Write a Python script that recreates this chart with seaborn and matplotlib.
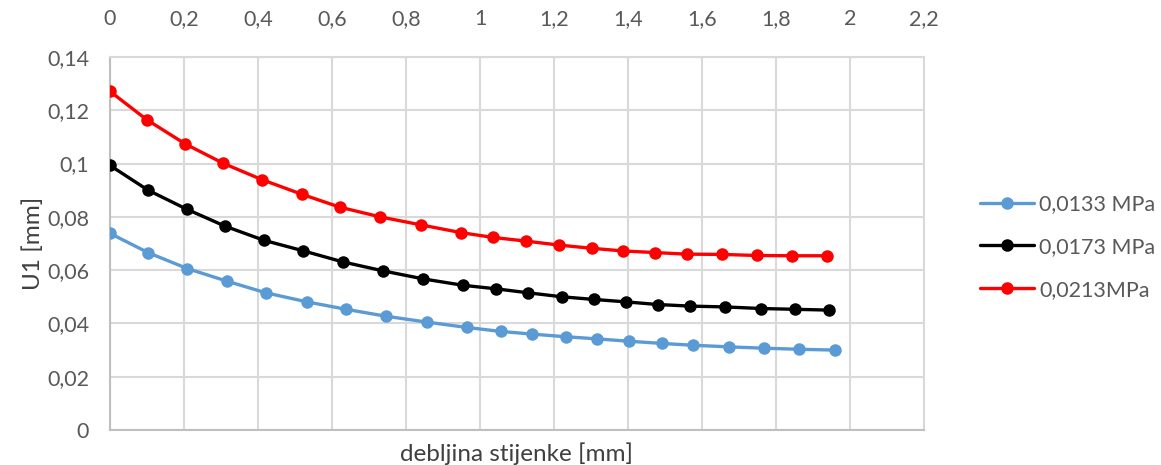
import matplotlib
matplotlib.use("Agg")
import matplotlib.pyplot as plt
import seaborn as sns
import pandas as pd
from matplotlib.ticker import FuncFormatter, MultipleLocator

x_0133 = [0, 0.104, 0.209, 0.315, 0.421, 0.532, 0.638, 0.746, 0.856, 0.964, 1.056,
          1.140, 1.232, 1.317, 1.404, 1.491, 1.577, 1.674, 1.768, 1.862, 1.959]
u_0133 = [0.0738, 0.0665, 0.0606, 0.0559, 0.0515, 0.0481, 0.0453, 0.0427, 0.0405, 0.0385,
          0.0370, 0.0360, 0.0350, 0.0342, 0.0333, 0.0325, 0.0318, 0.0312, 0.0307, 0.0303, 0.0300]

x_0173 = [0, 0.103, 0.207, 0.311, 0.416, 0.521, 0.629, 0.739, 0.847, 0.955, 1.043,
          1.130, 1.221, 1.308, 1.394, 1.480, 1.568, 1.662, 1.759, 1.851, 1.944]
u_0173 = [0.0993, 0.0900, 0.0829, 0.0765, 0.0712, 0.0673, 0.0631, 0.0597, 0.0567, 0.0543,
          0.0530, 0.0515, 0.0500, 0.0490, 0.0481, 0.0471, 0.0465, 0.0462, 0.0456, 0.0453, 0.0450]

x_0213 = [0, 0.099, 0.203, 0.306, 0.410, 0.518, 0.622, 0.730, 0.840, 0.948, 1.034,
          1.124, 1.214, 1.302, 1.387, 1.473, 1.560, 1.655, 1.748, 1.844, 1.937]
u_0213 = [0.1271, 0.1165, 0.1074, 0.1001, 0.0940, 0.0885, 0.0836, 0.0800, 0.0770, 0.0741,
          0.0723, 0.0709, 0.0694, 0.0682, 0.0672, 0.0666, 0.0660, 0.0659, 0.0655, 0.0654, 0.0654]

series_names = ["0,0133 MPa", "0,0173 MPa", "0,0213MPa"]
series_colors = ["#5b9bd5", "#000000", "#ff0000"]
series_x = [x_0133, x_0173, x_0213]
series_u = [u_0133, u_0173, u_0213]

x_label = "debljina stijenke [mm]"
y_label = "U1 [mm]"

sns.set_style("white")
plt.rcParams['font.family'] = ['Lato', 'DejaVu Sans']

fig = plt.figure(figsize=(11.61, 4.65), dpi=100)
ax = fig.add_axes([110/1161, 1 - 430/465, (924-110)/1161, (430-57)/465])

for name, color, xs, us in zip(series_names, series_colors, series_x, series_u):
    df = pd.DataFrame({"x": xs, "u": us})
    sns.lineplot(data=df, x="x", y="u", ax=ax, sort=False, color=color, label=name,
                 linewidth=2.4, marker="o", markersize=9, markeredgewidth=0,
                 markeredgecolor=color, zorder=3)

ax.set_xlim(0, 2.2)
ax.set_ylim(0, 0.14)
ax.xaxis.set_major_locator(MultipleLocator(0.2))
ax.yaxis.set_major_locator(MultipleLocator(0.02))

def comma_fmt(v, pos):
    s = f"{round(v, 4):g}"
    return s.replace(".", ",")

ax.xaxis.set_major_formatter(FuncFormatter(comma_fmt))
ax.yaxis.set_major_formatter(FuncFormatter(comma_fmt))

ax.xaxis.tick_top()
ax.xaxis.set_label_position("bottom")
ax.grid(True, color="#d9d9d9", linewidth=1.5)
ax.set_axisbelow(True)
for side in ["top", "right"]:
    ax.spines[side].set_color("#d9d9d9")
    ax.spines[side].set_linewidth(1.5)
for side in ["left", "bottom"]:
    ax.spines[side].set_color("#bfbfbf")
    ax.spines[side].set_linewidth(1.5)

ax.tick_params(axis="both", length=0, labelsize=15.5, labelcolor="#595959")
ax.tick_params(axis="x", pad=20)
ax.tick_params(axis="y", pad=15)
ax.set_xlabel(x_label, fontsize=17.5, color="#404040", labelpad=9)
ax.set_ylabel(y_label, fontsize=17.5, color="#404040", labelpad=2)

leg = ax.legend(loc="center left", bbox_to_anchor=(980/1161, 1 - 247/465),
                bbox_transform=fig.transFigure, frameon=False, fontsize=15.5,
                handlelength=2.5, handletextpad=0.25, labelspacing=1.05,
                borderpad=0, borderaxespad=0)
for t in leg.get_texts():
    t.set_color("#595959")

fig.savefig("out.png", dpi=100)
